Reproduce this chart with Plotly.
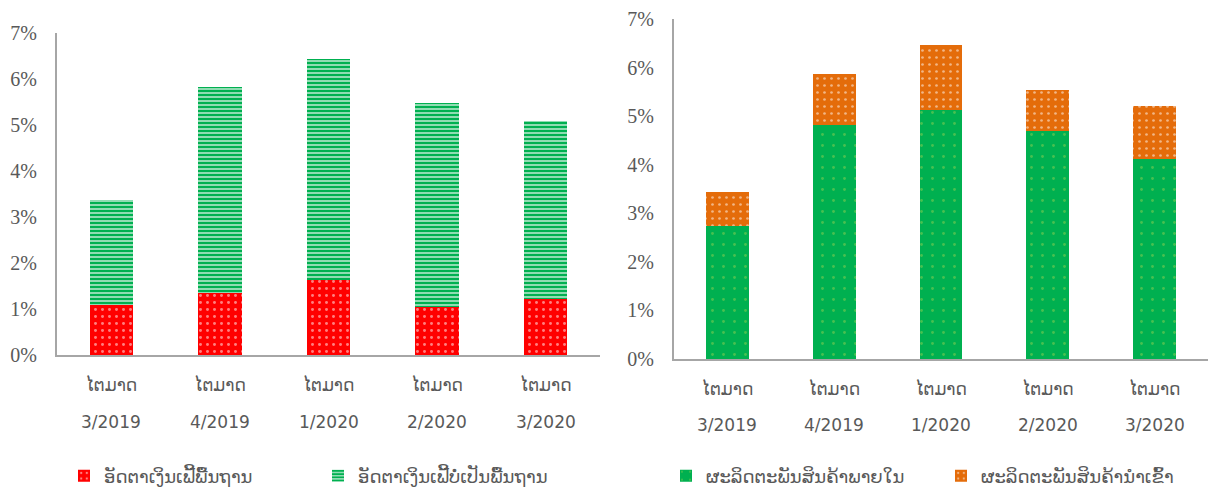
import plotly.graph_objects as go

quarters = ["3/2019", "4/2019", "1/2020", "2/2020", "3/2020"]
quarter_word = "ໄຕມາດ"

# Left chart: core vs non-core inflation (%)
core = [1.09, 1.35, 1.63, 1.04, 1.22]
non_core = [2.28, 4.48, 4.80, 4.44, 3.87]
core_name = "ອັດຕາເງິນເຟີ້ພື້ນຖານ"
non_core_name = "ອັດຕາເງິນເຟີ້ບໍ່ເປັນພື້ນຖານ"

# Right chart: domestic vs imported goods (%)
domestic = [2.74, 4.81, 5.12, 4.69, 4.12]
imported = [0.70, 1.05, 1.34, 0.84, 1.09]
domestic_name = "ຜະລິດຕະພັນສິນຄ້າພາຍໃນ"
imported_name = "ຜະລິດຕະພັນສິນຄ້ານຳເຂົ້າ"

y_ticks = [0, 1, 2, 3, 4, 5, 6, 7]

RED = "#FF0000"
GREEN = "#00B050"
ORANGE = "#E46C0A"
GRAY = "#595959"
AXIS = "#A6A6A6"
LAO_FONT = "DejaVu Sans, Noto Sans, sans-serif"
SERIF = "Liberation Serif, DejaVu Serif, serif"

fig = go.Figure()

fig.add_trace(go.Bar(
    x=quarters, y=core, name=core_name, xaxis="x", yaxis="y", legend="legend",
    marker=dict(color=RED, line=dict(width=0),
                pattern=dict(shape=".", fgcolor="white", bgcolor=RED, size=7, solidity=0.14)),
))
fig.add_trace(go.Bar(
    x=quarters, y=non_core, name=non_core_name, xaxis="x", yaxis="y", legend="legend",
    marker=dict(color=GREEN, line=dict(width=0),
                pattern=dict(shape="-", fgcolor=GREEN, bgcolor="white", size=4,
                             solidity=0.72, fgopacity=1)),
))
fig.add_trace(go.Bar(
    x=quarters, y=domestic, name=domestic_name, xaxis="x2", yaxis="y2", legend="legend2",
    marker=dict(color=GREEN, line=dict(width=0),
                pattern=dict(shape=".", fgcolor="#92D050", bgcolor=GREEN, size=11, solidity=0.05)),
))
fig.add_trace(go.Bar(
    x=quarters, y=imported, name=imported_name, xaxis="x2", yaxis="y2", legend="legend2",
    marker=dict(color=ORANGE, line=dict(width=0),
                pattern=dict(shape=".", fgcolor="white", bgcolor=ORANGE, size=7, solidity=0.12)),
))

W, H = 1208, 488

def xaxis(dom, anchor):
    return dict(domain=dom, anchor=anchor, type="category",
                showline=True, linecolor=AXIS, linewidth=2,
                ticks="", showgrid=False, zeroline=False,
                tickvals=quarters, ticktext=[quarter_word] * len(quarters),
                tickfont=dict(family=LAO_FONT, size=17, color=GRAY),
                ticklabelstandoff=14, automargin=False)

def yaxis(dom, anchor):
    return dict(domain=dom, anchor=anchor, range=[0, 7],
                tickvals=y_ticks, ticktext=[f"{v}%" for v in y_ticks],
                showline=True, linecolor=AXIS, linewidth=2,
                showgrid=False, zeroline=False, ticks="",
                tickfont=dict(family=SERIF, size=20, color=GRAY),
                ticklabelstandoff=14, automargin=False)

left_y = [(H - 355) / H, (H - 33) / H]
right_y = [(H - 359) / H, (H - 19) / H]

legend_font = dict(family=LAO_FONT, size=18, color=GRAY)

fig.update_layout(
    width=W, height=H,
    margin=dict(l=0, r=0, t=0, b=0, autoexpand=False),
    paper_bgcolor="white", plot_bgcolor="white",
    barmode="stack", bargap=0.6,
    xaxis=xaxis([57 / W, 600 / W], "y"),
    yaxis=yaxis(left_y, "x"),
    xaxis2=xaxis([674 / W, 1.0], "y2"),
    yaxis2=yaxis(right_y, "x2"),
    legend=dict(orientation="h", x=64 / W, y=(H - 476) / H, xanchor="left", yanchor="middle",
                font=legend_font, entrywidth=209,
                entrywidthmode="pixels", itemwidth=30, bgcolor="rgba(0,0,0,0)",
                traceorder="normal"),
    legend2=dict(orientation="h", x=666 / W, y=(H - 476) / H, xanchor="left", yanchor="middle",
                 font=legend_font, entrywidth=230,
                 entrywidthmode="pixels", itemwidth=30, bgcolor="rgba(0,0,0,0)",
                 traceorder="normal"),
    showlegend=True,
)

# second line of the category labels (the quarter/year)
for xa, ypos in (("x", (H - 422) / H), ("x2", (H - 425) / H)):
    for q in quarters:
        fig.add_annotation(x=q, xref=xa, y=ypos, yref="paper", text=q, showarrow=False,
                           font=dict(family=LAO_FONT, size=17, color=GRAY),
                           xanchor="center", yanchor="middle")

fig.write_html("out.html", config={"displayModeBar": False},
               post_script="document.body.style.margin='0';")
